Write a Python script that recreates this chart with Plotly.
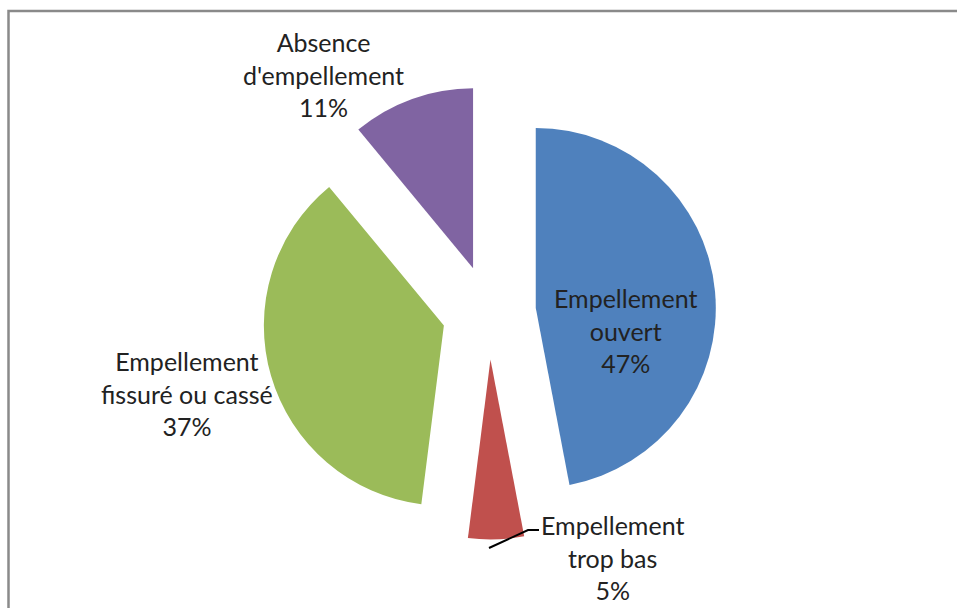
import plotly.graph_objects as go

# Data
labels = ["Empellement ouvert", "Empellement trop bas",
          "Empellement fissuré ou cassé", "Absence d'empellement"]
label_lines = ["Empellement<br>ouvert", "Empellement<br>trop bas",
               "Empellement<br>fissuré ou cassé", "Absence<br>d'empellement"]
values = [47, 5, 37, 11]
colors = ["#4F81BD", "#C0504D", "#9BBB59", "#8064A2"]

W, H = 957, 608

def px(x):
    return x / W

def py(y):
    return 1 - y / H

pull = 0.261
cx, cy, half = 489, 312.5, 227

fig = go.Figure(go.Pie(
    labels=labels,
    values=values,
    sort=False,
    direction="clockwise",
    rotation=0,
    pull=[pull] * len(values),
    marker=dict(colors=colors, line=dict(width=0)),
    textinfo="none",
    hoverinfo="label+percent",
    showlegend=False,
    domain=dict(x=[px(cx - half), px(cx + half)],
                y=[py(cy + half), py(cy - half)]),
))

# label positions (centres, pixels)
label_pos = [(625, 330), (612, 557), (187, 393), (323, 75)]
font = dict(family="Lato, 'Open Sans', sans-serif", size=25, color="#222222")
for lines, v, (lx, ly) in zip(label_lines, values, label_pos):
    fig.add_annotation(
        x=px(lx), y=py(ly), xref="paper", yref="paper",
        text=f"{lines}<br>{v}%", showarrow=False,
        font=font, align="center", xanchor="center", yanchor="middle",
    )

# leader line for small slice
fig.add_shape(type="path", xref="paper", yref="paper",
              path=f"M {px(489)} {py(548)} L {px(528)} {py(530)} L {px(539)} {py(530)}",
              line=dict(color="#000000", width=2))

# chart border
fig.add_shape(type="path", xref="paper", yref="paper",
              path=f"M {px(8.5)} {py(620)} L {px(8.5)} {py(11)} L {px(970)} {py(11)}",
              line=dict(color="#8a8a8a", width=2.5))

fig.update_layout(
    width=W, height=H,
    margin=dict(l=0, r=0, t=0, b=0),
    paper_bgcolor="white",
    plot_bgcolor="white",
)

fig.write_html("out.html")
